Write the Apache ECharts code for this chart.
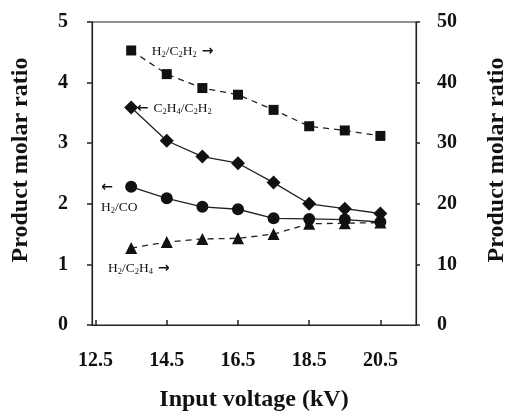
<!DOCTYPE html>
<html>
<head>
<meta charset="utf-8">
<script src="https://cdn.jsdelivr.net/npm/echarts@6/dist/echarts.min.js"></script>
<style>html,body{margin:0;padding:0;background:#fff}#c{width:508px;height:418px}</style>
</head>
<body>
<div id="c"></div>
<script>
var voltage = [13.5, 14.5, 15.5, 16.5, 17.5, 18.5, 19.5, 20.5];
var xTickLabels = [12.5, 14.5, 16.5, 18.5, 20.5];
var h2c2h2 = [45.3, 41.4, 39.1, 38.0, 35.5, 32.8, 32.1, 31.2];      // right axis
var c2h4c2h2 = [3.59, 3.04, 2.78, 2.67, 2.35, 2.00, 1.92, 1.84];  // left axis
var h2co = [2.28, 2.09, 1.95, 1.91, 1.76, 1.75, 1.74, 1.70];       // left axis
var h2c2h4 = [12.7, 13.7, 14.2, 14.3, 15.0, 16.7, 16.8, 16.9];     // right axis

function pairs(v){ return voltage.map(function(x,i){ return [x, v[i]]; }); }

// convert "H_2/C_2H_2" into rich text with subscripts
function sub(s){
  return s.replace(/_(\d)/g, '{s|$1}').replace(/(^|\})([^{]+)/g, function(m,p,t){ return p + '{n|' + t + '}'; });
}
var rich = {
  n: {fontFamily:'Liberation Serif', fontSize:13.5, color:'#111', lineHeight:15, verticalAlign:'bottom'},
  s: {fontFamily:'Liberation Serif', fontSize:8.5, color:'#111', lineHeight:15, verticalAlign:'bottom', padding:[0,0,-1,0]},
  a: {fontFamily:'DejaVu Sans', fontSize:14, fontWeight:'bold', color:'#111', lineHeight:15, verticalAlign:'bottom'}
};
var notes = [
  {text: sub('H_2/C_2H_2') + '{a| →}', coord:[14.08, 4.52]},
  {text: '{a|← }' + sub('C_2H_4/C_2H_2'), coord:[13.66, 3.58]},
  {text: '{a|←}', coord:[12.66, 2.28]},
  {text: sub('H_2/CO'), coord:[12.65, 1.95]},
  {text: sub('H_2/C_2H_4') + '{a| →}', coord:[12.85, 0.94]}
];

var serif = 'Liberation Serif';
var axisFont = {fontFamily: serif, fontSize: 20, fontWeight: 'bold', color: '#111'};
var titleFont = {fontFamily: serif, fontSize: 24, fontWeight: 'bold', color: '#111'};

var chart = echarts.init(document.getElementById('c'));
chart.setOption({
  animation: false,
  backgroundColor: '#fff',
  grid: {left: 92, right: 92, top: 22, bottom: 93, show: true, borderColor: '#222', borderWidth: 1,
         containLabel: false, outerBoundsMode: 'none'},
  xAxis: {
    type: 'value', min: 12.4, max: 21.5,
    name: 'Input voltage (kV)', nameLocation: 'middle', nameGap: 63, nameMoveOverlap: false,
    nameTextStyle: titleFont,
    axisLine: {lineStyle: {color: '#222', width: 1.2}},
    axisTick: {show: true, inside: true, length: 5, customValues: xTickLabels, lineStyle: {color: '#222', width: 1.5}},
    axisLabel: Object.assign({customValues: xTickLabels, margin: 26, formatter: function(v){ return v.toFixed(1); }}, axisFont),
    splitLine: {show: false}
  },
  yAxis: [{
    type: 'value', min: 0, max: 5, interval: 1, position: 'left',
    name: 'Product molar ratio', nameLocation: 'middle', nameGap: 59, nameRotate: 90, nameMoveOverlap: false,
    nameTextStyle: Object.assign({padding: [0, 0, 0, 27]}, titleFont),
    axisLine: {show: true, lineStyle: {color: '#222', width: 1.2}},
    axisTick: {show: true, length: 5, lineStyle: {color: '#222', width: 1.5}},
    axisLabel: Object.assign({margin: 24}, axisFont),
    splitLine: {show: false}
  }, {
    type: 'value', min: 0, max: 50, interval: 10, position: 'right',
    name: 'Product molar ratio', nameLocation: 'middle', nameGap: 69, nameRotate: 90, nameMoveOverlap: false,
    nameTextStyle: Object.assign({padding: [0, 0, 0, 27]}, titleFont),
    axisLine: {show: true, lineStyle: {color: '#222', width: 1.2}},
    axisTick: {show: true, length: 4, lineStyle: {color: '#222', width: 1.5}},
    axisLabel: Object.assign({margin: 21}, axisFont),
    splitLine: {show: false}
  }],
  series: [{
    name: 'H2/C2H2', type: 'line', yAxisIndex: 1, data: pairs(h2c2h2),
    symbol: 'rect', symbolSize: 10, itemStyle: {color: '#111'},
    lineStyle: {color: '#222', width: 1.3, type: [6, 5]}
  }, {
    name: 'C2H4/C2H2', type: 'line', yAxisIndex: 0, data: pairs(c2h4c2h2),
    symbol: 'diamond', symbolSize: 14, itemStyle: {color: '#111'},
    lineStyle: {color: '#222', width: 1.3},
    markPoint: {
      symbol: 'circle', symbolSize: 0, silent: true,
      label: {show: true, position: 'inside', align: 'left', verticalAlign: 'middle', rich: rich, formatter: function(p){ return p.name; }},
      data: notes.map(function(n){ return {name: n.text, coord: n.coord}; })
    }
  }, {
    name: 'H2/CO', type: 'line', yAxisIndex: 0, data: pairs(h2co),
    symbol: 'circle', symbolSize: 12, itemStyle: {color: '#111'},
    lineStyle: {color: '#222', width: 1.3}
  }, {
    name: 'H2/C2H4', type: 'line', yAxisIndex: 1, data: pairs(h2c2h4),
    symbol: 'triangle', symbolSize: 12, itemStyle: {color: '#111'},
    lineStyle: {color: '#222', width: 1.3, type: [6, 5]}
  }]
});
</script>
</body>
</html>
